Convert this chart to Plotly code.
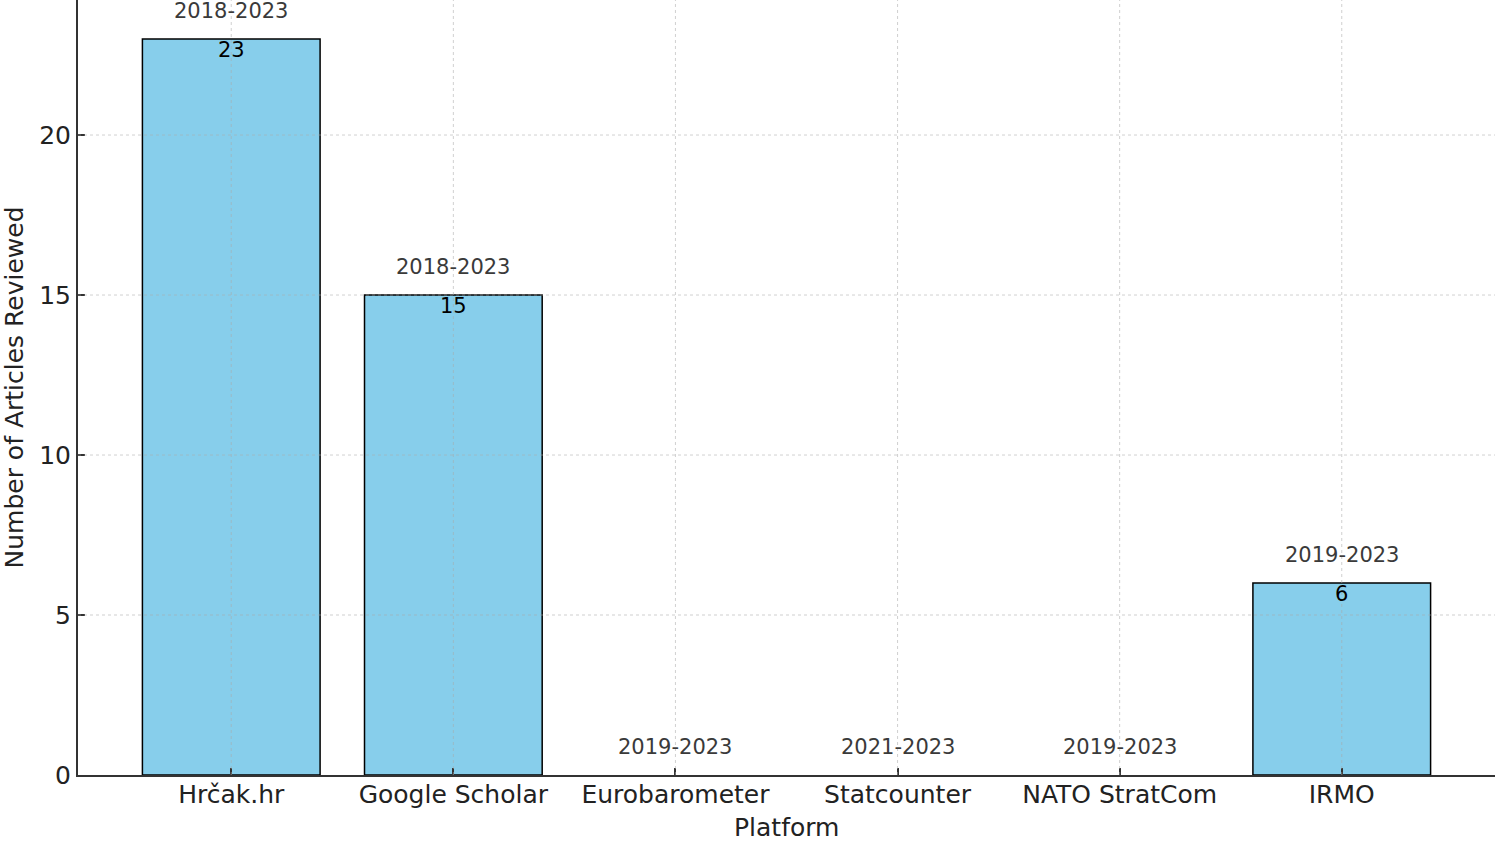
import plotly.graph_objects as go

platforms = ["Hrčak.hr", "Google Scholar", "Eurobarometer", "Statcounter", "NATO StratCom", "IRMO"]
articles = [23, 15, 0, 0, 0, 6]
periods = ["2018-2023", "2018-2023", "2019-2023", "2021-2023", "2019-2023", "2019-2023"]
y_ticks = [0, 5, 10, 15, 20]

FONT = "DejaVu Sans"

fig = go.Figure()
fig.add_trace(go.Bar(
    x=list(range(len(platforms))), y=articles, width=0.8,
    marker=dict(color="#87CEEB",
                line=dict(color="black", width=[1.5 if v > 0 else 0 for v in articles])),
    hoverinfo="skip",
))

annotations = []
for i, (v, p) in enumerate(zip(articles, periods)):
    annotations.append(dict(x=i, y=v, text=p, showarrow=False, xref="x", yref="y",
                            yanchor="bottom", yshift=14,
                            font=dict(family=FONT, size=21, color="#3a3a3a")))
    if v > 0:
        annotations.append(dict(x=i, y=v, text=str(v), showarrow=False, xref="x", yref="y",
                                yanchor="top", yshift=3,
                                font=dict(family=FONT, size=21, color="black")))

# axis titles
annotations.append(dict(x=0.5, y=0, xref="paper", yref="paper", text="Platform", showarrow=False,
                        yanchor="middle", yshift=-52,
                        font=dict(family=FONT, size=25, color="#222222")))
annotations.append(dict(x=0, y=0.5, xref="paper", yref="paper", text="Number of Articles Reviewed",
                        showarrow=False, textangle=-90, xanchor="center", xshift=-64,
                        font=dict(family=FONT, size=25, color="#222222")))

shapes = []
grid = dict(color="rgba(170,170,170,0.55)", width=1, dash="3px,3px")
for t in y_ticks[1:]:
    shapes.append(dict(type="line", xref="paper", yref="y", x0=0, x1=1, y0=t, y1=t,
                       line=grid, layer="above"))
for i in range(len(platforms)):
    shapes.append(dict(type="line", xref="x", yref="paper", x0=i, x1=i, y0=0, y1=1,
                       line=grid, layer="above"))

fig.update_layout(
    width=1500, height=841,
    margin=dict(l=78, r=5, t=0, b=66),
    plot_bgcolor="white", paper_bgcolor="white",
    showlegend=False,
    annotations=annotations,
    shapes=shapes,
    font=dict(family=FONT, color="#222222"),
    xaxis=dict(
        range=[-0.69, 5.69], tickmode="array", tickvals=list(range(len(platforms))),
        ticktext=platforms, showgrid=False, zeroline=False, automargin=False,
        showline=True, linecolor="#333333", linewidth=2, layer="above traces",
        ticks="inside", ticklen=7, tickwidth=1.5, tickcolor="#333333",
        ticklabelstandoff=-4,
        tickfont=dict(family=FONT, size=25, color="#222222"),
    ),
    yaxis=dict(
        range=[0, 24.22], tickmode="array", tickvals=y_ticks, showgrid=False, zeroline=False,
        automargin=False,
        showline=True, linecolor="#333333", linewidth=2, layer="above traces",
        ticks="inside", ticklen=7, tickwidth=1.5, tickcolor="#333333",
        tickfont=dict(family=FONT, size=25, color="#222222"),
    ),
)

fig.write_html("out.html", config={"displayModeBar": False},
               post_script="document.body.style.margin='0px';")
